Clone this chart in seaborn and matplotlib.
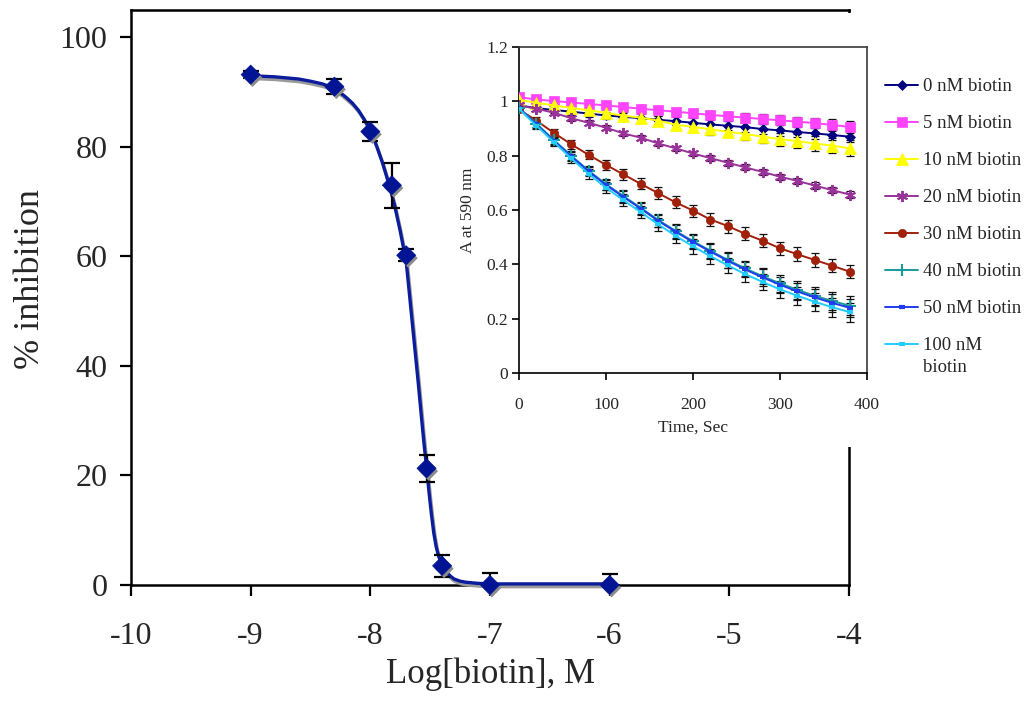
import numpy as np
import pandas as pd
import matplotlib
matplotlib.use("Agg")
import matplotlib.pyplot as plt
import matplotlib.patheffects as pe
from matplotlib.patches import Rectangle
import seaborn as sns

# ---------------- main dose-response data ----------------
log_conc = [-9.0, -8.3, -8.0, -7.82, -7.7, -7.53, -7.4, -7.0, -6.0]
inhibition = [93.2, 91.0, 82.8, 73.0, 60.2, 21.3, 3.5, 0.0, 0.0]
inhibition_err = [0.6, 1.4, 1.8, 4.1, 1.1, 2.4, 2.0, 2.2, 2.0]

# fitted curve
fit_x = [-9.0, -8.8, -8.6, -8.5, -8.4, -8.35, -8.3, -8.25, -8.2, -8.15, -8.1,
         -8.05, -8.0, -7.95, -7.9, -7.85, -7.8, -7.75, -7.7, -7.65, -7.6,
         -7.57, -7.55, -7.53, -7.51, -7.49, -7.47, -7.45, -7.43, -7.4, -7.37,
         -7.33, -7.3, -7.25, -7.2, -7.1, -7.0, -6.5, -6.0]
fit_y = [93.0, 92.8, 92.4, 92.0, 91.5, 91.1, 90.6, 89.9, 89.0, 88.0, 86.7,
         85.0, 83.0, 80.3, 77.2, 73.6, 69.6, 64.6, 59.0, 48.0, 37.0,
         30.0, 25.5, 21.5, 17.0, 13.0, 9.5, 7.0, 5.3, 3.6, 2.5,
         1.6, 1.1, 0.7, 0.5, 0.3, 0.2, 0.2, 0.2]

main_xticks = [-10, -9, -8, -7, -6, -5, -4]
main_yticks = [0, 20, 40, 60, 80, 100]

# ---------------- inset kinetics data ----------------
time_s = [0, 20, 40, 60, 80, 100, 120, 140, 160, 180, 200, 220, 240, 260,
          280, 300, 320, 340, 360, 380]
a0 = [0.985, 0.975, 0.968, 0.962, 0.955, 0.948, 0.943, 0.938, 0.932, 0.927,
      0.921, 0.915, 0.910, 0.905, 0.898, 0.893, 0.887, 0.882, 0.876, 0.870]
a5 = [1.015, 1.007, 1.001, 0.996, 0.990, 0.985, 0.979, 0.973, 0.967, 0.962,
      0.956, 0.950, 0.945, 0.940, 0.935, 0.930, 0.925, 0.920, 0.913, 0.906]
a10 = [1.005, 0.995, 0.985, 0.976, 0.967, 0.958, 0.947, 0.940, 0.929, 0.914,
       0.906, 0.897, 0.888, 0.880, 0.870, 0.861, 0.853, 0.845, 0.837, 0.827]
a20 = [0.985, 0.973, 0.958, 0.938, 0.921, 0.903, 0.882, 0.866, 0.845, 0.827,
       0.808, 0.791, 0.774, 0.757, 0.740, 0.723, 0.707, 0.690, 0.673, 0.657]
a30 = [0.970, 0.929, 0.884, 0.842, 0.803, 0.766, 0.731, 0.696, 0.662, 0.628,
       0.598, 0.565, 0.541, 0.512, 0.487, 0.459, 0.437, 0.416, 0.395, 0.373]
a40 = [0.975, 0.918, 0.858, 0.800, 0.745, 0.695, 0.651, 0.608, 0.563, 0.523,
       0.485, 0.450, 0.416, 0.385, 0.356, 0.330, 0.306, 0.284, 0.265, 0.248]
a50 = [0.975, 0.915, 0.855, 0.797, 0.742, 0.692, 0.648, 0.605, 0.560, 0.520,
       0.482, 0.447, 0.413, 0.381, 0.352, 0.325, 0.300, 0.278, 0.258, 0.240]
a100 = [0.972, 0.910, 0.850, 0.790, 0.733, 0.682, 0.636, 0.592, 0.547, 0.505,
        0.466, 0.430, 0.396, 0.364, 0.335, 0.308, 0.284, 0.262, 0.242, 0.224]

e0 = [0.008, 0.009, 0.010, 0.011, 0.012, 0.012, 0.013, 0.014, 0.015, 0.015,
      0.016, 0.017, 0.017, 0.018, 0.018, 0.019, 0.019, 0.020, 0.020, 0.021]
e5 = [0.006, 0.007, 0.008, 0.009, 0.010, 0.010, 0.011, 0.012, 0.012, 0.013,
      0.014, 0.015, 0.016, 0.017, 0.018, 0.018, 0.019, 0.020, 0.021, 0.022]
e10 = [0.008, 0.010, 0.011, 0.012, 0.013, 0.014, 0.015, 0.016, 0.017, 0.018,
       0.019, 0.020, 0.021, 0.022, 0.023, 0.024, 0.025, 0.026, 0.028, 0.030]
e20 = [0.006, 0.007, 0.008, 0.009, 0.009, 0.010, 0.010, 0.010, 0.010, 0.010,
       0.011, 0.011, 0.011, 0.011, 0.011, 0.011, 0.012, 0.012, 0.012, 0.012]
e30 = [0.010, 0.012, 0.014, 0.016, 0.017, 0.018, 0.019, 0.020, 0.021, 0.022,
       0.022, 0.023, 0.024, 0.024, 0.024, 0.025, 0.025, 0.025, 0.025, 0.025]
e40 = [0.010, 0.012, 0.014, 0.016, 0.018, 0.020, 0.021, 0.022, 0.024, 0.025,
       0.026, 0.027, 0.028, 0.029, 0.030, 0.031, 0.032, 0.032, 0.033, 0.034]
e50 = [0.010, 0.012, 0.014, 0.016, 0.018, 0.019, 0.021, 0.022, 0.023, 0.025,
       0.026, 0.027, 0.028, 0.029, 0.030, 0.030, 0.031, 0.032, 0.033, 0.033]
e100 = [0.010, 0.012, 0.014, 0.016, 0.018, 0.020, 0.022, 0.023, 0.025, 0.026,
        0.027, 0.028, 0.029, 0.030, 0.031, 0.032, 0.033, 0.034, 0.035, 0.035]

series_labels = ["0 nM biotin", "5 nM biotin", "10 nM biotin", "20 nM biotin",
                 "30 nM biotin", "40 nM biotin", "50 nM biotin", "100 nM"]
inset_xticks = [0, 100, 200, 300, 400]
inset_yticks = [0, 0.2, 0.4, 0.6, 0.8, 1.0, 1.2]
inset_yticklabels = ["0", "0.2", "0.4", "0.6", "0.8", "1", "1.2"]

# ---------------- style ----------------
sns.set_style("ticks")
plt.rcParams["font.family"] = ["Liberation Serif", "DejaVu Serif"]
plt.rcParams["axes.unicode_minus"] = False

W, H = 1028, 706
fig = plt.figure(figsize=(W / 100, H / 100), dpi=100)
fig.patch.set_facecolor("white")

# ---------------- main axes ----------------
ax = fig.add_axes([131 / W, 1 - 585 / H, 718 / W, 575 / H], zorder=0)
ax.set_facecolor("white")

shadow_line = [pe.SimpleLineShadow(offset=(0.9, -2.0), shadow_color="#9a9a9a",
                                   alpha=1.0), pe.Normal()]
fit_df = pd.DataFrame({"x": fit_x, "y": fit_y})
sns.lineplot(data=fit_df, x="x", y="y", ax=ax, color="#0B1C9C", lw=2.4,
             sort=False, estimator=None, zorder=3, clip_on=False,
             path_effects=shadow_line)

ax.errorbar(log_conc, inhibition, yerr=inhibition_err, fmt="none",
            ecolor="black", elinewidth=1.6, capsize=6, capthick=1.6, zorder=4)

pts_df = pd.DataFrame({"x": log_conc, "y": inhibition})
sns.scatterplot(data=pts_df, x="x", y="y", ax=ax, marker="D", s=95,
                color="#001494", edgecolor="#001494", linewidth=0.5,
                zorder=5, clip_on=False,
                path_effects=[pe.SimplePatchShadow(offset=(1.4, -2.0),
                                                   shadow_rgbFace="#8c8c8c",
                                                   alpha=1.0), pe.Normal()])

ax.set_xlim(-10, -4)
ax.set_ylim(0, 105)
ax.set_xticks(main_xticks)
ax.set_xticklabels([str(t) for t in main_xticks])
ax.set_yticks(main_yticks)
ax.set_xlabel("Log[biotin], M", fontsize=25, labelpad=4)
ax.set_ylabel("% inhibition", fontsize=26)
ax.yaxis.set_label_coords(-0.117, 0.532)
ax.tick_params(axis="both", direction="out", length=8, width=1.6,
               color="black", labelsize=23)
ax.tick_params(axis="x", pad=19)
ax.tick_params(axis="y", pad=9)
for sp in ax.spines.values():
    sp.set_visible(True)
    sp.set_color("black")
    sp.set_linewidth(1.8)

# white chart area of the inset covering part of the main plot
fig.add_artist(Rectangle((452 / W, 1 - 447 / H), 1 - 452 / W, (447 - 13) / H,
                         transform=fig.transFigure, facecolor="white",
                         edgecolor="none", zorder=1))

# ---------------- inset axes ----------------
axi = fig.add_axes([519 / W, 1 - 373 / H, 348 / W, 326 / H], zorder=2)
axi.set_facecolor("white")

inset_vals = [a0, a5, a10, a20, a30, a40, a50, a100]
inset_errs = [e0, e5, e10, e20, e30, e40, e50, e100]
colors = ["#000080", "#FF44FF", "#FFFF00", "#993399", "#A0200A", "#1A9A9A",
          "#1E3CF0", "#22CCFF"]
markers = ["D", "s", "^", (6, 2, 0), "o", "+", "_", "_"]
msizes = [5.5, 7, 8, 8, 6, 8, 5, 5]
mews = [0.5, 0.5, 0.5, 1.4, 0.5, 1.5, 3.0, 3.0]

for vals, errs in zip(inset_vals, inset_errs):
    axi.errorbar(time_s, vals, yerr=errs, fmt="none", ecolor="#111111",
                 elinewidth=0.9, capsize=3.2, capthick=0.9, zorder=2)

for vals, col, mk, ms, mew, lab in zip(inset_vals, colors, markers, msizes,
                                       mews, series_labels):
    df = pd.DataFrame({"t": time_s, "a": vals})
    sns.lineplot(data=df, x="t", y="a", ax=axi, color=col, lw=1.4,
                 marker=mk, markersize=ms, markeredgewidth=mew,
                 markeredgecolor=col, markerfacecolor=col, label=lab,
                 estimator=None, sort=False, zorder=3)

axi.set_xlim(0, 400)
axi.set_ylim(0, 1.2)
axi.set_xticks(inset_xticks)
axi.set_yticks(inset_yticks)
axi.set_yticklabels(inset_yticklabels)
axi.set_xlabel("Time, Sec", fontsize=12.5, labelpad=5)
axi.set_ylabel("A at 590 nm", fontsize=12.5, labelpad=7)
axi.tick_params(axis="both", direction="out", length=5, width=1.2,
                color="black", labelsize=12.5)
axi.tick_params(axis="x", pad=12)
axi.tick_params(axis="y", pad=3)
for name, sp in axi.spines.items():
    sp.set_visible(True)
    sp.set_linewidth(1.2)
    sp.set_color("black" if name in ("left", "bottom") else "#3a3a3a")

handles, labels = axi.get_legend_handles_labels()
axi.get_legend().remove()
leg = fig.legend(handles, labels, loc="upper left",
                 bbox_to_anchor=(885 / W, 1 - 78 / H), frameon=False,
                 fontsize=13.5, handlelength=1.76, handletextpad=0.28,
                 labelspacing=1.06, borderaxespad=0, borderpad=0)

# second line of the last legend label
fig.canvas.draw()
last = leg.get_texts()[-1]
bb = last.get_window_extent(fig.canvas.get_renderer())
fig.text(bb.x0 / W, (bb.y0 - 22) / H, "biotin", fontsize=13.5, ha="left",
         va="bottom", zorder=6)

fig.savefig("out.png", dpi=100, facecolor="white")
